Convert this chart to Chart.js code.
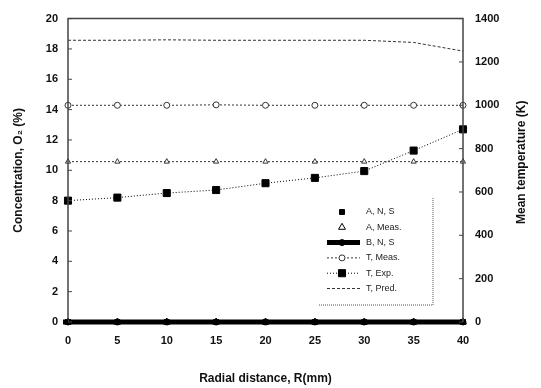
<!DOCTYPE html>
<html>
<head>
<meta charset="utf-8">
<script src="https://cdn.jsdelivr.net/npm/chart.js@4/dist/chart.umd.min.js"></script>
<style>
  html, body { margin: 0; padding: 0; background: #fff; }
  #wrap { width: 541px; height: 388px; }
</style>
</head>
<body>
<div id="wrap"><canvas id="chart" width="541" height="388"></canvas></div>
<script>
// data
const radialDistance = [0, 5, 10, 15, 20, 25, 30, 35, 40];

const concA = [0, 0, 0, 0, 0, 0, 0, 0, 0];            // A, N, S
const concAMeas = [0, 0, 0, 0, 0, 0, 0, 0, 0];        // A, Meas.
const concB = [0, 0, 0, 0, 0, 0, 0, 0, 0];            // B, N, S
const tempMeas = [1000, 1000, 1000, 1002, 1000, 1000, 1000, 1000, 1000];
const o2Exp = [8.0, 8.2, 8.5, 8.7, 9.15, 9.5, 9.95, 11.3, 12.7];
const tempPred = [1300, 1300, 1302, 1300, 1300, 1300, 1300, 1290, 1250];
const tempLow = [740, 740, 740, 740, 740, 740, 740, 740, 740];

const legendLabels = ['A, N, S', 'A, Meas.', 'B, N, S', 'T, Meas.', 'T, Exp.', 'T, Pred.'];

const xTitle = 'Radial distance, R(mm)';
const leftTitle = 'Concentration, O\u2082 (%)';
const rightTitle = 'Mean temperature (K)';

const FONT = '"Liberation Sans", Arial, sans-serif';
const INK = '#111';

function pts(values) {
    return values.map((v, i) => ({ x: radialDistance[i], y: v }));
}

const datasets = [
    { label: legendLabels[0], data: pts(concA), yAxisID: 'y', showLine: false,
      pointStyle: 'rect', pointRadius: 3.5, backgroundColor: '#000', borderColor: '#000', borderWidth: 1 },
    { label: legendLabels[1], data: pts(concAMeas), yAxisID: 'y', showLine: false,
      pointStyle: 'triangle', pointRadius: 4, backgroundColor: '#fff', borderColor: '#000', borderWidth: 1 },
    { label: legendLabels[2], data: pts(concB), yAxisID: 'y', showLine: true,
      pointStyle: 'circle', pointRadius: 3, backgroundColor: '#000', borderColor: '#000', borderWidth: 5,
      pointBorderWidth: 1 },
    { label: legendLabels[3], data: pts(tempMeas), yAxisID: 'y1', showLine: true, borderDash: [2, 2],
      pointStyle: 'circle', pointRadius: 3, backgroundColor: '#fff', borderColor: '#333', borderWidth: 1 },
    { label: legendLabels[4], data: pts(o2Exp), yAxisID: 'y', showLine: true, borderDash: [1, 2],
      pointStyle: 'rect', pointRadius: 5, backgroundColor: '#000', borderColor: '#000', borderWidth: 1 },
    { label: legendLabels[5], data: pts(tempPred), yAxisID: 'y1', showLine: true, borderDash: [3, 2],
      pointRadius: 0, backgroundColor: '#333', borderColor: '#333', borderWidth: 1 },
    { label: '', data: pts(tempLow), yAxisID: 'y1', showLine: true, borderDash: [2, 2], noLegend: true,
      pointStyle: 'triangle', pointRadius: 3, backgroundColor: '#fff', borderColor: '#333', borderWidth: 1 }
];
datasets.forEach(d => { d.clip = false; d.fill = false; d.tension = 0; });

// frame, inward ticks, right title, legend box
const decorations = {
    id: 'decorations',
    afterDraw(chart) {
        const ctx = chart.ctx;
        const a = chart.chartArea;
        const sy = chart.scales.y, sy1 = chart.scales.y1;
        ctx.save();

        ctx.strokeStyle = '#444';
        ctx.lineWidth = 1.5;
        ctx.beginPath();
        ctx.moveTo(a.left, a.bottom); ctx.lineTo(a.left, a.top);
        ctx.lineTo(a.right, a.top); ctx.lineTo(a.right, a.bottom);
        ctx.stroke();

        // thick zero line runs a little past the left axis
        ctx.strokeStyle = '#000';
        ctx.lineWidth = 5;
        ctx.beginPath();
        ctx.moveTo(a.left - 5, a.bottom); ctx.lineTo(a.left, a.bottom);
        ctx.stroke();

        ctx.strokeStyle = '#444';
        ctx.lineWidth = 1;
        ctx.beginPath();
        sy.ticks.forEach(t => {
            const p = sy.getPixelForValue(t.value);
            ctx.moveTo(a.left, p); ctx.lineTo(a.left + 4, p);
        });
        sy1.ticks.forEach(t => {
            const p = sy1.getPixelForValue(t.value);
            ctx.moveTo(a.right, p); ctx.lineTo(a.right - 4, p);
        });
        ctx.stroke();

        // right axis title reads bottom to top
        ctx.fillStyle = INK;
        ctx.font = 'bold 12px ' + FONT;
        ctx.textAlign = 'center';
        ctx.textBaseline = 'middle';
        ctx.translate(522, (a.top + a.bottom) / 2 - 8);
        ctx.rotate(-Math.PI / 2);
        ctx.fillText(rightTitle, 0, 0);
        ctx.setTransform(1, 0, 0, 1, 0, 0);

        // legend box
        const boxRight = 433, boxBottom = 305, boxLeft = 318, boxTop = 198;
        ctx.strokeStyle = '#555';
        ctx.lineWidth = 1;
        ctx.setLineDash([1, 1]);
        ctx.beginPath();
        ctx.moveTo(boxRight, boxTop); ctx.lineTo(boxRight, boxBottom); ctx.lineTo(boxLeft, boxBottom);
        ctx.stroke();

        let row = 0;
        chart.data.datasets.forEach(ds => {
            if (ds.noLegend) return;
            const y = 212 + row * 15.3;
            ctx.setLineDash(ds.borderDash || []);
            if (ds.showLine) {
                ctx.strokeStyle = ds.borderColor;
                ctx.lineWidth = ds.borderWidth;
                ctx.beginPath();
                ctx.moveTo(327, y); ctx.lineTo(360, y);
                ctx.stroke();
            }
            ctx.setLineDash([]);
            if (ds.pointRadius > 0) {
                ctx.fillStyle = ds.backgroundColor;
                ctx.strokeStyle = ds.borderColor;
                ctx.lineWidth = 1;
                Chart.helpers.drawPoint(ctx, {
                    pointStyle: ds.pointStyle, radius: ds.pointRadius, rotation: 0, borderWidth: 1
                }, 342, y);
            }
            ctx.fillStyle = '#222';
            ctx.font = '9px ' + FONT;
            ctx.textAlign = 'left';
            ctx.textBaseline = 'middle';
            ctx.fillText(ds.label, 366, y);
            row++;
        });
        ctx.restore();
    }
};

const tickFont = { family: FONT, size: 11, weight: 'bold' };
const titleFont = { family: FONT, size: 12, weight: 'bold' };

new Chart(document.getElementById('chart'), {
    type: 'line',
    data: { datasets: datasets },
    options: {
        responsive: false,
        animation: false,
        layout: { padding: { top: 12, left: 0, right: 0, bottom: 0 } },
        plugins: { legend: { display: false }, tooltip: { enabled: false } },
        scales: {
            x: {
                type: 'linear', min: 0, max: 40,
                ticks: { stepSize: 5, font: tickFont, color: INK, padding: 12 },
                grid: { display: false, drawTicks: false },
                border: { display: false },
                title: { display: true, text: xTitle, font: titleFont, color: INK, padding: { top: 4, bottom: 2 } },
                afterFit(s) { s.height = 66; }
            },
            y: {
                position: 'left', min: 0, max: 20,
                ticks: { stepSize: 2, font: tickFont, color: INK, padding: 10 },
                grid: { display: false, drawTicks: false },
                border: { display: false },
                title: { display: true, text: leftTitle, font: titleFont, color: INK, padding: { top: 11, bottom: 0 } },
                afterFit(s) { s.width = 68; }
            },
            y1: {
                position: 'right', min: 0, max: 1400,
                ticks: { stepSize: 200, font: tickFont, color: INK, padding: 12,
                         callback: v => String(v) },
                grid: { display: false, drawTicks: false },
                border: { display: false },
                afterFit(s) { s.width = 78; }
            }
        }
    },
    plugins: [decorations]
});
</script>
</body>
</html>
